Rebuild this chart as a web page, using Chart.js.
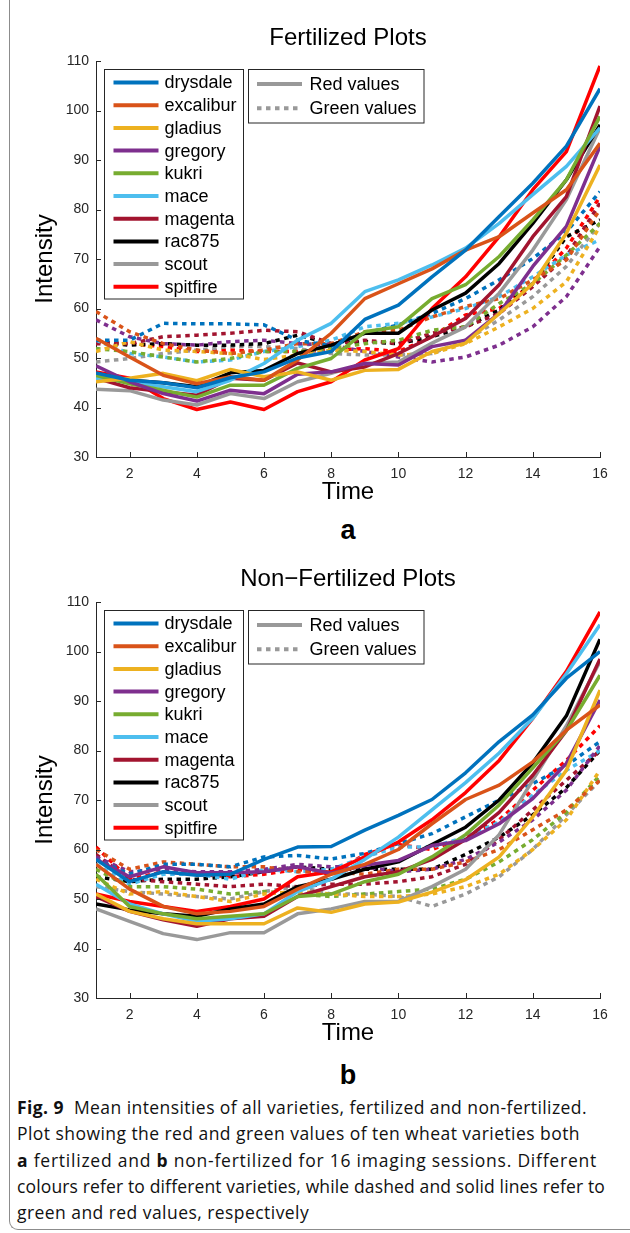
<!DOCTYPE html>
<html>
<head>
<meta charset="utf-8">
<script src="https://cdn.jsdelivr.net/npm/chart.js@4.4.0/dist/chart.umd.min.js"></script>
<style>
  body { margin: 0; background: #fff; width: 630px; height: 1233px; overflow: hidden; position: relative; font-family: "Liberation Sans", Arial, sans-serif; }
  .frame { position: absolute; left: 9px; top: -12px; width: 700px; height: 1242px; border-left: 1.3px solid #8c8c8c; border-bottom: 1.3px solid #8c8c8c; border-bottom-left-radius: 9px; box-sizing: border-box; }
  .chart { position: absolute; left: 0; }
  .panel { position: absolute; left: 0; width: 696px; text-align: center; font-weight: bold; font-size: 27px; line-height: 30px; }
  .caption { position: absolute; left: 17px; top: 1094px; font-family: "Open Sans", Lato, sans-serif; font-size: 17.5px; line-height: 26.3px; color: #111; white-space: nowrap; }
  .caption span { display: inline-block; }
</style>
</head>
<body>
<div class="frame"></div>
<canvas id="fert" class="chart" style="top:0" width="630" height="510"></canvas>
<div class="panel" style="top:515px">a</div>
<canvas id="nonfert" class="chart" style="top:541px" width="630" height="510"></canvas>
<div class="panel" style="top:1060px">b</div>
<div class="caption">
  <div><span data-w="570"><b>Fig. 9</b>&nbsp; Mean intensities of all varieties, fertilized and non-fertilized.</span></div>
  <div><span data-w="563">Plot showing the red and green values of ten wheat varieties both</span></div>
  <div><span data-w="580"><b>a</b> fertilized and <b>b</b> non-fertilized for 16 imaging sessions. Different</span></div>
  <div><span data-w="588">colours refer to different varieties, while dashed and solid lines refer to</span></div>
  <div><span>green and red values, respectively</span></div>
</div>
<script>
const sessions = [1, 2, 3, 4, 5, 6, 7, 8, 9, 10, 11, 12, 13, 14, 15, 16];
const timeTicks = [2, 4, 6, 8, 10, 12, 14, 16];
const varieties = ["drysdale", "excalibur", "gladius", "gregory", "kukri", "mace", "magenta", "rac875", "scout", "spitfire"];
const colours = ["#0072BD", "#D95319", "#EDB120", "#7E2F8E", "#77AC30", "#4DBEEE", "#A2142F", "#000000", "#999999", "#FF0000"];

// fertilized, red values (solid)
const fRedDrysdale = [47, 45.5, 45, 44, 46, 47.2, 50, 51.3, 57.8, 60.7, 66.4, 71.8, 78.6, 85.3, 92.8, 104.4];
const fRedExcalibur = [54, 50.2, 46.5, 44.8, 46.2, 45.5, 49.6, 55, 62, 65, 68, 71.8, 74.5, 79.3, 84, 93.4];
const fRedGladius = [45.2, 45.9, 46.9, 45.4, 47.7, 46.2, 47.2, 45.5, 47.5, 47.7, 51.3, 53, 59, 65, 75.2, 89];
const fRedGregory = [48.4, 45.2, 42.8, 41.3, 43.5, 42.8, 46.7, 47.2, 48.9, 48.6, 52.3, 53.6, 59, 68.5, 76.6, 92.8];
const fRedKukri = [46.5, 44.8, 43.5, 42.1, 44.5, 44.5, 47.9, 49.9, 55.3, 56.3, 62, 64.8, 70.5, 77.9, 86, 98.8];
const fRedMace = [45.9, 45.2, 44.2, 43.2, 45.5, 48.9, 53.6, 57, 63.4, 65.8, 68.8, 72.2, 77.2, 83, 88.7, 96.5];
const fRedMagenta = [45.9, 44, 43.2, 42.5, 45.9, 45.5, 49, 47.2, 48.2, 50.9, 54.3, 58, 64.8, 74.5, 82.6, 100.9];
const fRedRac875 = [46.9, 45.5, 45, 44.2, 47, 47.5, 50.9, 52.6, 55, 55, 59.7, 63.1, 69.1, 77.2, 86, 97.1];
const fRedScout = [43.7, 43.4, 41.5, 40.5, 42.8, 41.8, 45.2, 46.9, 48.9, 49.2, 53, 56.3, 63.1, 71.8, 82, 96.5];
const fRedSpitfire = [47.2, 45.9, 41.8, 39.6, 41.1, 39.6, 43.2, 45.2, 49.6, 51.9, 60, 66.4, 74.5, 84, 91.7, 109];

// fertilized, green values (dashed)
const fGreenDrysdale = [53.6, 53.6, 57, 56.9, 56.9, 56.7, 53.6, 52.4, 55, 56.7, 59, 62, 65.8, 70.1, 75.5, 83.6];
const fGreenExcalibur = [59.4, 55.3, 52.9, 51.6, 50.9, 51.6, 52.9, 52.9, 55.3, 55.6, 58.3, 60.4, 62, 65.8, 69.8, 80];
const fGreenGladius = [51.3, 53.3, 51.6, 51.3, 50.9, 49.7, 50.6, 51.6, 51.3, 50.6, 50.9, 52.9, 56.3, 60, 65.4, 76.6];
const fGreenGregory = [57.7, 54.3, 52.9, 52.6, 53.3, 53.6, 52.9, 52.6, 51.3, 50.2, 49.2, 50.2, 52.6, 56.3, 62.4, 72.5];
const fGreenKukri = [51.9, 51.3, 50.2, 49.2, 49.9, 51.3, 51.3, 51.9, 52.9, 53.6, 55.6, 56.3, 61, 65, 70.8, 77.2];
const fGreenMace = [53.6, 50.9, 50.2, 49.2, 49.6, 51.3, 52.3, 53.6, 56.3, 57, 58.3, 60, 62.4, 66.4, 70.8, 73.9];
const fGreenMagenta = [52.9, 52.9, 54.3, 54.6, 55, 55.6, 55.3, 52.9, 53.6, 52.9, 55, 56.3, 59, 64.4, 70.5, 81.3];
const fGreenRac875 = [53.3, 52.6, 52.9, 52.6, 52.6, 52.9, 54.6, 52.9, 53.3, 52.9, 54.3, 56.3, 59.7, 65, 74.5, 77.9];
const fGreenScout = [49.2, 49.9, 50.9, 51.6, 52.3, 52.3, 51.9, 50.9, 50.6, 50.6, 50.9, 53.6, 57.7, 62.4, 68.5, 77.2];
const fGreenSpitfire = [53.3, 52.9, 52.3, 51.3, 51.6, 51.3, 51.3, 51.6, 51.9, 51.3, 54.3, 58.7, 60, 65, 72.2, 82.6];

// non-fertilized, red values (solid)
const nRedDrysdale = [58, 53.5, 55.5, 54.8, 55, 58, 60.5, 60.6, 63.9, 66.9, 70.1, 75.5, 81.8, 87.2, 94.6, 100];
const nRedExcalibur = [57, 52, 48.5, 47, 47.5, 48.5, 52, 55, 57, 60, 65.2, 70.1, 73, 77.7, 84.1, 89.2];
const nRedGladius = [51, 47.5, 46, 45, 45, 45, 48.2, 47.3, 49, 49.4, 51.4, 53.9, 58.5, 66.6, 76, 92.2];
const nRedGregory = [58, 54.5, 56.5, 55.3, 55.3, 55.5, 56.5, 55.2, 56.8, 57.8, 60.8, 61.8, 65.2, 70.3, 77.4, 90.2];
const nRedKukri = [55, 48.5, 47, 46, 46.5, 47, 50.5, 51, 53.5, 55, 58.5, 63, 69, 76.5, 84, 95.2];
const nRedMace = [53, 49, 47, 45.5, 46, 47, 51.5, 54, 58, 62.5, 68, 73.5, 79.5, 86.5, 95.5, 105.4];
const nRedMagenta = [50.5, 47.5, 45.8, 44.5, 46, 46.5, 50.5, 52.5, 54.5, 55.5, 58, 62, 67.5, 75, 84, 98.5];
const nRedRac875 = [49, 47.8, 47, 46.5, 48, 49, 52.5, 54, 56, 57.5, 61, 64.5, 70, 77.5, 87, 102.5];
const nRedScout = [48, 45.5, 43, 41.8, 43.2, 43.2, 47, 48, 49.5, 49.5, 52.5, 56, 63, 74, 85, 98];
const nRedSpitfire = [51, 49.5, 48.5, 47.5, 48.5, 50, 54.5, 55.5, 58.5, 61.5, 66, 71.5, 78, 86.5, 96, 108];

// non-fertilized, green values (dashed)
const nGreenDrysdale = [58, 55, 57, 57, 56.5, 58.5, 58.8, 58.1, 59.2, 61.2, 63.2, 66.6, 70, 73.3, 77, 81.8];
const nGreenExcalibur = [60, 56, 57.5, 57, 56.5, 56.5, 55.5, 55.5, 55, 56, 56, 57.5, 60, 64, 68, 74];
const nGreenGladius = [54, 51, 51.5, 50.5, 49.5, 51, 51.5, 51, 50.5, 50.5, 51, 52.5, 55, 60, 66, 76];
const nGreenGregory = [58.5, 55.5, 56, 55.5, 55.5, 56, 57, 56.5, 56.5, 55.5, 56, 58, 61.5, 66, 72, 81];
const nGreenKukri = [56, 52.5, 52.5, 52, 51, 51.5, 51, 50.5, 51, 51.5, 52, 54, 57.5, 62, 67.5, 75];
const nGreenMace = [57, 53, 55, 55, 54, 56, 55.5, 56, 58.5, 60.5, 60.5, 62.5, 65.5, 71, 76, 80];
const nGreenMagenta = [59, 54, 53.5, 53, 52.5, 53, 52.5, 53, 53, 53.5, 54.5, 57, 62, 68, 74, 80];
const nGreenRac875 = [54.5, 53.5, 54, 54, 54.5, 55.5, 56.5, 56, 56, 56, 56, 59, 62.5, 67, 72.5, 80];
const nGreenScout = [52.5, 51.5, 51, 50.5, 50, 51.5, 52.5, 51, 51, 50.5, 48.5, 51, 54.5, 60, 67, 74];
const nGreenSpitfire = [60.5, 54, 55.5, 55, 54.5, 55, 56, 55, 59, 61, 60, 62.5, 66, 72, 78, 85];

const fertRed = [fRedDrysdale, fRedExcalibur, fRedGladius, fRedGregory, fRedKukri, fRedMace, fRedMagenta, fRedRac875, fRedScout, fRedSpitfire];
const fertGreen = [fGreenDrysdale, fGreenExcalibur, fGreenGladius, fGreenGregory, fGreenKukri, fGreenMace, fGreenMagenta, fGreenRac875, fGreenScout, fGreenSpitfire];
const nonRed = [nRedDrysdale, nRedExcalibur, nRedGladius, nRedGregory, nRedKukri, nRedMace, nRedMagenta, nRedRac875, nRedScout, nRedSpitfire];
const nonGreen = [nGreenDrysdale, nGreenExcalibur, nGreenGladius, nGreenGregory, nGreenKukri, nGreenMace, nGreenMagenta, nGreenRac875, nGreenScout, nGreenSpitfire];

const axisColor = "#262626";
const dash = [4.5, 4.5];

// ticks pointing into the plot, MATLAB style
const inwardTicks = {
  id: "inwardTicks",
  afterDatasetsDraw(chart) {
    const { ctx, chartArea: a, scales: { x, y } } = chart;
    ctx.save();
    ctx.strokeStyle = axisColor;
    ctx.lineWidth = 1;
    ctx.beginPath();
    y.ticks.forEach((t) => {
      const py = Math.round(y.getPixelForValue(t.value)) + 0.5;
      ctx.moveTo(a.left, py);
      ctx.lineTo(a.left + 5, py);
    });
    x.ticks.forEach((t) => {
      const px = Math.round(x.getPixelForValue(t.value)) + 0.5;
      ctx.moveTo(px, a.bottom);
      ctx.lineTo(px, a.bottom - 5);
    });
    ctx.stroke();
    ctx.restore();
  },
};

// the two boxed legends
const boxLegends = {
  id: "boxLegends",
  afterDraw(chart) {
    const { ctx, chartArea: a } = chart;
    ctx.save();
    ctx.font = '18px "Liberation Sans", Arial, sans-serif';
    ctx.textBaseline = "middle";
    ctx.lineWidth = 1;

    const x0 = a.left + 7.5, y0 = a.top + 8;
    ctx.fillStyle = "#fff";
    ctx.fillRect(x0, y0, 139, 229.5);
    ctx.strokeStyle = axisColor;
    ctx.strokeRect(Math.round(x0) + 0.5, Math.round(y0) + 0.5, 139, 229.5);
    varieties.forEach((name, i) => {
      const cy = y0 + 13.5 + i * 22.7;
      ctx.beginPath();
      ctx.strokeStyle = colours[i];
      ctx.lineWidth = 4;
      ctx.moveTo(x0 + 10, cy);
      ctx.lineTo(x0 + 55, cy);
      ctx.stroke();
      ctx.fillStyle = "#000";
      ctx.fillText(name, x0 + 61, cy + 1);
    });

    const x1 = a.left + 151.5;
    ctx.lineWidth = 1;
    ctx.fillStyle = "#fff";
    ctx.fillRect(x1, y0, 175.5, 53.5);
    ctx.strokeStyle = axisColor;
    ctx.strokeRect(Math.round(x1) + 0.5, Math.round(y0) + 0.5, 175.5, 53.5);
    [["Red values", []], ["Green values", dash]].forEach(([label, d], i) => {
      const cy = y0 + 15 + i * 24.3;
      ctx.beginPath();
      ctx.setLineDash(d);
      ctx.strokeStyle = "#999999";
      ctx.lineWidth = 4;
      ctx.moveTo(x1 + 9.5, cy);
      ctx.lineTo(x1 + 54.5, cy);
      ctx.stroke();
      ctx.setLineDash([]);
      ctx.fillStyle = "#000";
      ctx.fillText(label, x1 + 62, cy + 1);
    });
    ctx.restore();
  },
};

function makeChart(id, titleText, red, green) {
  const datasets = [];
  varieties.forEach((name, i) => {
    datasets.push({
      label: name + " red",
      data: sessions.map((t, k) => ({ x: t, y: red[i][k] })),
      borderColor: colours[i],
      borderWidth: 3.5,
    });
  });
  varieties.forEach((name, i) => {
    datasets.push({
      label: name + " green",
      data: sessions.map((t, k) => ({ x: t, y: green[i][k] })),
      borderColor: colours[i],
      borderWidth: 3.5,
      borderDash: dash,
    });
  });

  return new Chart(document.getElementById(id), {
    type: "line",
    data: { datasets: datasets },
    plugins: [inwardTicks, boxLegends],
    options: {
      responsive: false,
      animation: false,
      devicePixelRatio: 1,
      layout: { padding: { left: 0, right: 30, top: 0, bottom: 3 } },
      elements: {
        point: { radius: 0, hoverRadius: 0 },
        line: { tension: 0, borderCapStyle: "butt", borderJoinStyle: "round", fill: false },
      },
      plugins: {
        legend: { display: false },
        tooltip: { enabled: false },
        title: {
          display: true,
          text: titleText,
          fullSize: false,
          color: "#000",
          font: { size: 24, weight: "normal", family: '"Liberation Sans", Arial, sans-serif', lineHeight: 1.2 },
          padding: { top: 23.6, bottom: 8.6 },
        },
      },
      scales: {
        x: {
          type: "linear",
          min: 1,
          max: 16,
          grid: { display: false, drawTicks: false },
          border: { display: true, color: axisColor, width: 1 },
          afterBuildTicks: (s) => { s.ticks = timeTicks.map((v) => ({ value: v })); },
          afterFit: (s) => { s.height = 50; },
          ticks: { padding: 9, color: axisColor, font: { size: 14, family: '"Liberation Sans", Arial, sans-serif' } },
          title: {
            display: true,
            text: "Time",
            color: "#000",
            padding: { top: 0, bottom: 0 },
            font: { size: 24, family: '"Liberation Sans", Arial, sans-serif', lineHeight: 1.2 },
          },
        },
        y: {
          min: 30,
          max: 110,
          grid: { display: false, drawTicks: false },
          border: { display: true, color: axisColor, width: 1 },
          afterFit: (s) => { s.width = 96; },
          ticks: { stepSize: 10, padding: 7, color: axisColor, font: { size: 14, family: '"Liberation Sans", Arial, sans-serif' } },
          title: {
            display: true,
            text: "Intensity",
            color: "#000",
            padding: { top: 30.6, bottom: 0 },
            font: { size: 24, family: '"Liberation Sans", Arial, sans-serif', lineHeight: 1.2 },
          },
        },
      },
    },
  });
}

makeChart("fert", "Fertilized Plots", fertRed, fertGreen);
makeChart("nonfert", "Non\u2212Fertilized Plots", nonRed, nonGreen);

// stretch the caption lines to the widths of the printed figure
const spans = Array.from(document.querySelectorAll(".caption span"));
let spacing = 0, n = 0;
spans.forEach((s) => {
  if (!s.dataset.w) return;
  const chars = s.textContent.length;
  const ls = (Number(s.dataset.w) - s.getBoundingClientRect().width) / chars;
  s.style.letterSpacing = ls + "px";
  spacing += ls; n++;
});
spans.forEach((s) => { if (!s.dataset.w) s.style.letterSpacing = (spacing / n) + "px"; });
</script>
</body>
</html>
